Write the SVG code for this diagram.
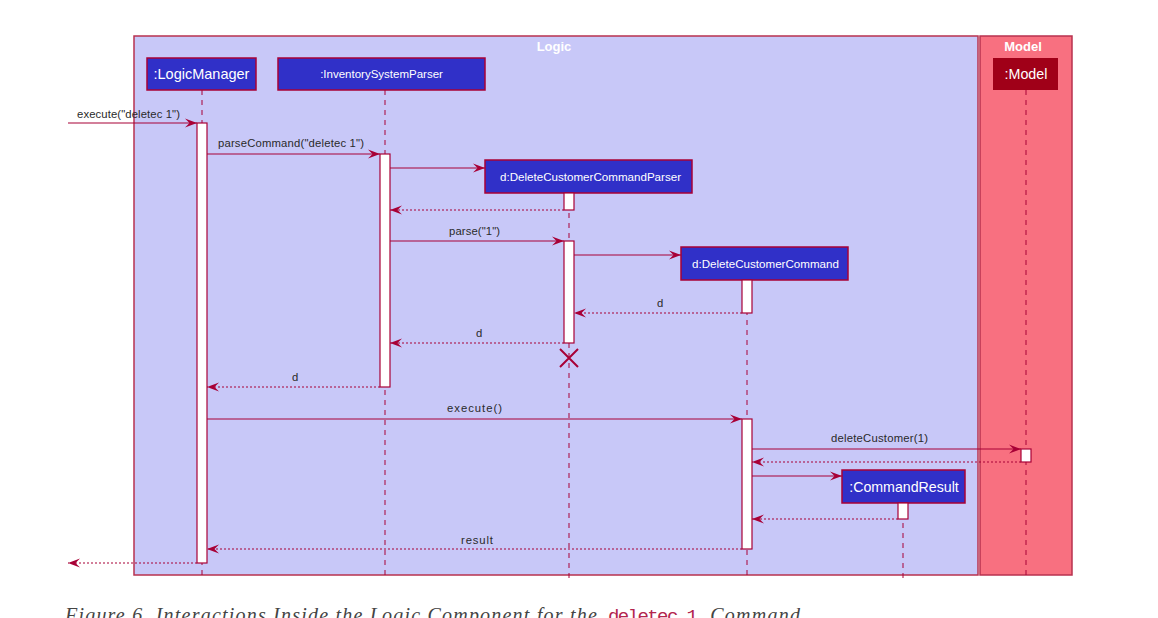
<svg xmlns="http://www.w3.org/2000/svg" width="1158" height="618" viewBox="0 0 1158 618">
<style>
.frame{stroke:#b8324f;stroke-width:1.5}
.ftitle{font-family:"Liberation Sans",Arial,sans-serif;font-size:13px;font-weight:bold;fill:#ffffff;text-anchor:middle}
.pbox{fill:#3030c8;stroke:#a80036;stroke-width:1.5}
.ptext{font-family:"Liberation Sans",Arial,sans-serif;fill:#ffffff;text-anchor:middle}
.life{stroke:#a80036;stroke-width:1;stroke-dasharray:5,5;fill:none}
.act{fill:#ffffff;stroke:#a80036;stroke-width:1.2}
.msg{stroke:#a80036;stroke-width:1.2;fill:none;marker-end:url(#arr)}
.ret{stroke:#a80036;stroke-width:1.2;fill:none;stroke-dasharray:2,2;marker-end:url(#arr)}
.lbl{font-family:"Liberation Sans",Arial,sans-serif;font-size:11.3px;fill:#2a2a2a}
.cap{font-family:"Liberation Serif","DejaVu Serif",serif;font-style:italic;font-size:20px;fill:#444444}
</style>
<defs>
<marker id="arr" viewBox="0 0 12 10" refX="12" refY="5" markerWidth="12" markerHeight="10" markerUnits="userSpaceOnUse" orient="auto">
<path d="M0,0.5 L12,5 L0,9.5 L4.5,5 Z" fill="#a80036"/>
</marker>
</defs>
<rect width="1158" height="618" fill="#ffffff"/>
<g id="frame-logic">
<rect class="frame" x="134" y="36" width="844" height="539" fill="#c8c8f8"/>
<text class="ftitle" x="554" y="51">Logic</text>
</g>
<g id="frame-model">
<rect class="frame" x="980" y="36" width="92" height="539" fill="#f87080"/>
<text class="ftitle" x="1023" y="51">Model</text>
</g>
<g id="LogicManager">
<line class="life" x1="202" y1="90" x2="202" y2="580"/>
<rect class="pbox" x="147" y="58" width="109" height="32"/>
<text class="ptext" x="201.5" y="79" font-size="14.5">:LogicManager</text>
<rect class="act" x="197" y="123" width="10" height="440"/>
</g>
<g id="InventorySystemParser">
<line class="life" x1="385" y1="90" x2="385" y2="580"/>
<rect class="pbox" x="278" y="58" width="207" height="32"/>
<text class="ptext" x="381.5" y="78" font-size="11.5">:InventorySystemParser</text>
<rect class="act" x="380" y="154" width="10" height="233"/>
</g>
<g id="DeleteCustomerCommandParser">
<line class="life" x1="569" y1="193" x2="569" y2="580"/>
<rect class="pbox" x="485" y="160" width="207" height="33"/>
<text class="ptext" x="590.5" y="181" font-size="11.6">d:DeleteCustomerCommandParser</text>
<rect class="act" x="564" y="193" width="10" height="17"/>
<rect class="act" x="564" y="241" width="10" height="102"/>
<path d="M560,349 L578,367 M578,349 L560,367" stroke="#a80036" stroke-width="2" fill="none"/>
</g>
<g id="DeleteCustomerCommand">
<line class="life" x1="747" y1="280" x2="747" y2="580"/>
<rect class="pbox" x="681" y="247" width="167" height="33"/>
<text class="ptext" x="765.5" y="268" font-size="11.6">d:DeleteCustomerCommand</text>
<rect class="act" x="742" y="280" width="10" height="33"/>
<rect class="act" x="742" y="419" width="10" height="130"/>
</g>
<g id="Model">
<line class="life" x1="1026" y1="90" x2="1026" y2="580"/>
<rect x="993" y="58" width="65" height="32" fill="#a00018"/>
<text class="ptext" x="1026" y="79" font-size="14.3" fill="#f4dde0">:Model</text>
<rect class="act" x="1021" y="449" width="10" height="13"/>
</g>
<g id="CommandResult">
<line class="life" x1="903" y1="503" x2="903" y2="580"/>
<rect class="pbox" x="842" y="470" width="123" height="33"/>
<text class="ptext" x="904" y="492" font-size="14.2">:CommandResult</text>
<rect class="act" x="898" y="503" width="10" height="16"/>
</g>
<g id="connectors">
<line class="msg" x1="68" y1="123" x2="197" y2="123"/>
<text class="lbl" x="77" y="118" textLength="103">execute("deletec 1")</text>
<line class="msg" x1="207" y1="154" x2="380" y2="154"/>
<text class="lbl" x="218" y="147" textLength="146">parseCommand("deletec 1")</text>
<line class="msg" x1="390" y1="168" x2="485" y2="168"/>
<line class="ret" x1="564" y1="210" x2="390" y2="210"/>
<line class="msg" x1="390" y1="241" x2="564" y2="241"/>
<text class="lbl" x="449" y="235" textLength="51">parse("1")</text>
<line class="msg" x1="574" y1="255" x2="681" y2="255"/>
<line class="ret" x1="742" y1="313" x2="574" y2="313"/>
<text class="lbl" x="657" y="307">d</text>
<line class="ret" x1="564" y1="343" x2="390" y2="343"/>
<text class="lbl" x="476" y="337">d</text>
<line class="ret" x1="380" y1="387" x2="207" y2="387"/>
<text class="lbl" x="292" y="381">d</text>
<line class="msg" x1="207" y1="419" x2="742" y2="419"/>
<text class="lbl" x="447" y="412" textLength="55">execute()</text>
<line class="msg" x1="752" y1="449" x2="1021" y2="449"/>
<text class="lbl" x="831" y="442" textLength="97">deleteCustomer(1)</text>
<line class="ret" x1="1021" y1="462" x2="752" y2="462"/>
<line class="msg" x1="752" y1="476" x2="842" y2="476"/>
<line class="ret" x1="898" y1="519" x2="752" y2="519"/>
<line class="ret" x1="742" y1="549" x2="207" y2="549"/>
<text class="lbl" x="461" y="544" textLength="32">result</text>
<line class="ret" x1="197" y1="563" x2="68" y2="563"/>
</g>
<text class="cap" x="65" y="622"><tspan textLength="538">Figure 6. Interactions Inside the Logic Component for the </tspan><tspan x="608" font-family="'Liberation Mono','DejaVu Sans Mono',monospace" font-style="normal" font-size="19" fill="#b3254e" textLength="90">deletec 1</tspan><tspan x="704" textLength="96"> Command</tspan></text>
</svg>
